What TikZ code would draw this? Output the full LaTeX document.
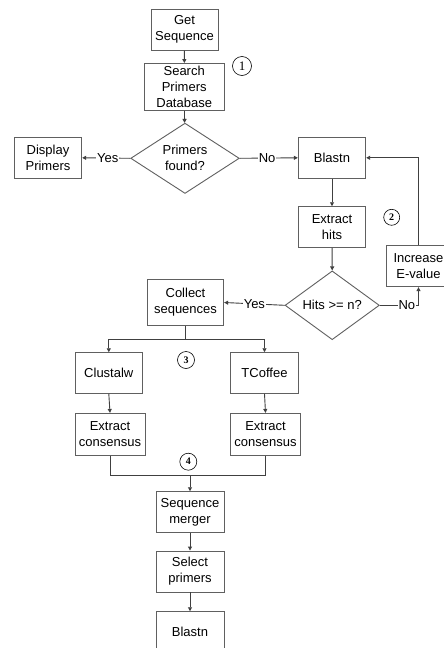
\documentclass[tikz,border=0pt]{standalone}
\usepackage{fontspec}
\setmainfont{Liberation Sans}
\newfontfamily\numfont{Liberation Serif}
\usetikzlibrary{shapes.geometric,arrows.meta,calc}
\definecolor{boxc}{HTML}{606060}
\definecolor{linec}{HTML}{404040}
\tikzset{
  box/.style={draw=boxc, line width=0.9pt, inner sep=0pt, align=center,
    font=\fontsize{13}{16}\selectfont, text=black},
  dia/.style={draw=boxc, line width=0.9pt, diamond, inner sep=0pt, align=center,
    font=\fontsize{13}{16}\selectfont, text=black},
  conn/.style={draw=linec, line width=0.9pt},
  arr/.style={conn, -{Triangle[length=4pt,width=4pt]}},
  lbl/.style={fill=white, inner sep=1pt, font=\fontsize{13}{16}\selectfont, text=black},
  numc/.style={draw=black, circle, line width=0.6pt, inner sep=0pt, font=\numfont\bfseries\fontsize{10}{10}\selectfont}
}
\begin{document}
\begin{tikzpicture}[x=1pt,y=-1pt]
\useasboundingbox (0,0) rectangle (444,648);
\fill[white] (0,0) rectangle (444,648);
\node[box, minimum width=67pt, minimum height=41pt] (get) at (184.5,29.7) {Get\\Sequence};
\node[box, minimum width=80pt, minimum height=47pt] (search) at (184.2,87) {Search\\Primers\\Database};
\node[dia, minimum width=108.6pt, minimum height=64.7pt] (found) at (185,158.3) {Primers\\found?};
\node[box, minimum width=67.4pt, minimum height=41pt] (display) at (48,157.8) {Display\\Primers};
\node[box, minimum width=67.4pt, minimum height=41pt] (blastA) at (332,157.8) {Blastn};
\node[box, minimum width=67.4pt, minimum height=40.6pt] (hitsx) at (332,227) {Extract\\hits};
\node[box, minimum width=64pt, minimum height=41pt] (incr) at (418.5,266.2) {Increase\\E-value};
\node[dia, minimum width=94.3pt, minimum height=56pt] (hits) at (332.2,305.3) {Hits >= n?};
\node[box, minimum width=76.4pt, minimum height=46.4pt] (collect) at (185.5,302.5) {Collect\\sequences};
\node[box, minimum width=67.7pt, minimum height=40.6pt] (clustal) at (108.8,373) {Clustalw};
\node[box, minimum width=67.6pt, minimum height=40.6pt] (tcoffee) at (264.5,373) {TCoffee};
\node[box, minimum width=70pt, minimum height=41.7pt] (consL) at (110,434.2) {Extract\\consensus};
\node[box, minimum width=69.6pt, minimum height=41.7pt] (consR) at (265.5,434.2) {Extract\\consensus};
\node[box, minimum width=68pt, minimum height=40.6pt] (merger) at (190,512) {Sequence\\merger};
\node[box, minimum width=68pt, minimum height=41pt] (select) at (190,571.5) {Select\\primers};
\node[box, minimum width=68pt, minimum height=41pt] (blastB) at (190,632.2) {Blastn};
\node[numc, minimum size=19pt, font=\numfont\fontsize{13}{13}\selectfont] (n1) at (242,66) {1};
\node[numc, minimum size=16pt] (n2) at (391.7,217.3) {2};
\node[numc, minimum size=17pt] (n3) at (186,360) {3};
\node[numc, minimum size=17pt] (n4) at (188.3,461.7) {4};
\draw[arr] (get) -- (search);
\draw[arr] (search) -- (found);
\draw[arr] (found.west) -- node[lbl, pos=0.47] {Yes} (display.east);
\draw[arr] (found.east) -- node[lbl, pos=0.47] {No} (blastA.west);
\draw[arr] (blastA) -- (hitsx);
\draw[arr] (hitsx) -- (hits.north);
\draw[arr] (hits.west) -- node[lbl, pos=0.5] {Yes} (collect.east);
\coordinate (cnr) at (hits.east -| incr.south);
\draw[conn] (hits.east) -- node[lbl, pos=0.7] {No} (cnr);
\draw[arr] (cnr) -- (incr.south);
\draw[arr] (incr.north) |- (blastA.east);
\coordinate (split) at ($(collect.south)+(0,13.6)$);
\draw[conn] (collect.south) -- (split);
\draw[arr] (split) -| (clustal.north);
\draw[arr] (split) -| (tcoffee.north);
\draw[arr] (clustal.south) -- (consL.north);
\draw[arr] (tcoffee.south) -- (consR.north);
\coordinate (merge) at (190,475.3);
\draw[conn] (consL.south) |- (merge) -| (consR.south);
\draw[arr] (merge) -- (merger.north);
\draw[arr] (merger) -- (select);
\draw[arr] (select) -- (blastB);
\end{tikzpicture}
\end{document}
